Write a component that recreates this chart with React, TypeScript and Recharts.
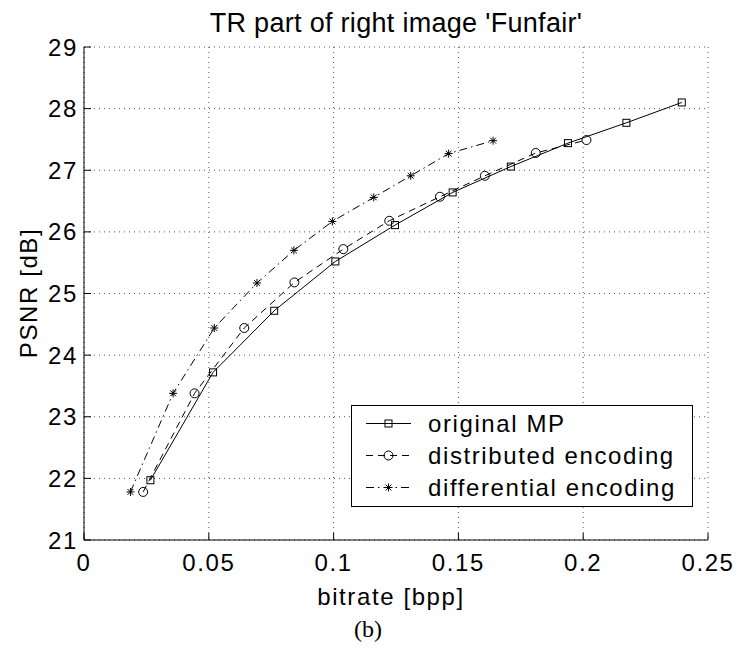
import { CartesianGrid, Legend, Line, LineChart, XAxis, YAxis } from "recharts"

// values
const mpRate = [0.0266, 0.0517, 0.0762, 0.1007, 0.1246, 0.1477, 0.171, 0.1939, 0.2173, 0.2395]
const mpPsnr = [21.97, 23.72, 24.72, 25.52, 26.11, 26.64, 27.06, 27.44, 27.77, 28.1]

const distRate = [0.0237, 0.0443, 0.0642, 0.0843, 0.1039, 0.1223, 0.1426, 0.1606, 0.181, 0.2013]
const distPsnr = [21.78, 23.38, 24.44, 25.18, 25.72, 26.18, 26.57, 26.91, 27.28, 27.49]

const diffRate = [0.0186, 0.0357, 0.0522, 0.0693, 0.0841, 0.0995, 0.1161, 0.1309, 0.1461, 0.1639]
const diffPsnr = [21.78, 23.38, 24.44, 25.17, 25.7, 26.17, 26.56, 26.91, 27.27, 27.48]

const xTicks = [0, 0.05, 0.1, 0.15, 0.2, 0.25]
const yTicks = [21, 22, 23, 24, 25, 26, 27, 28, 29]

const toPoints = (xs: number[], ys: number[]) => xs.map((x, i) => ({ x, y: ys[i] }))

const FONT = "'Liberation Sans', Arial, sans-serif"
const TEXT = { fontFamily: FONT, fontSize: 24, letterSpacing: 1.6, fill: "#000" }
const TICK_LEN = 7

type Marker = "square" | "circle" | "star"

function MarkerShape({ kind, cx, cy }: { kind: Marker; cx: number; cy: number }) {
  if (kind === "square")
    return <rect x={cx - 3.5} y={cy - 3.5} width={7} height={7} fill="none" stroke="#000" strokeWidth={1} />
  if (kind === "circle") return <circle cx={cx} cy={cy} r={4.5} fill="none" stroke="#000" strokeWidth={1} />
  const d = 4
  const e = 2.9
  return (
    <g stroke="#000" strokeWidth={1}>
      <line x1={cx} y1={cy - d} x2={cx} y2={cy + d} />
      <line x1={cx - d} y1={cy} x2={cx + d} y2={cy} />
      <line x1={cx - e} y1={cy - e} x2={cx + e} y2={cy + e} />
      <line x1={cx - e} y1={cy + e} x2={cx + e} y2={cy - e} />
    </g>
  )
}

const series = [
  { name: "original MP", data: toPoints(mpRate, mpPsnr), dash: undefined, marker: "square" as Marker },
  { name: "distributed encoding", data: toPoints(distRate, distPsnr), dash: "7 5", marker: "circle" as Marker },
  { name: "differential encoding", data: toPoints(diffRate, diffPsnr), dash: "8 4 1.5 4", marker: "star" as Marker },
]

function YTick({ x, y, payload }: any) {
  const axisX = x + 6
  return (
    <g>
      <text x={x} y={y} dy={8.5} textAnchor="end" {...TEXT}>
        {payload.value}
      </text>
      <line x1={axisX} x2={axisX + TICK_LEN} y1={y} y2={y} stroke="#000" />
    </g>
  )
}

function XTick({ x, y, payload }: any) {
  return (
    <g>
      <text x={x} y={y + 31} textAnchor="middle" {...TEXT}>
        {String(payload.value)}
      </text>
      <line x1={x} x2={x} y1={y} y2={y - TICK_LEN} stroke="#000" />
    </g>
  )
}

// keep the MATLAB legend order (series order), not the one Recharts hands over
function LegendBox({ payload }: any) {
  const names = new Set(((payload ?? []) as { value: string }[]).map((p) => p.value))
  const rows = series.filter((s) => names.has(s.name))
  return (
    <svg width={342} height={102} style={{ display: "block" }}>
      <rect x={0.5} y={0.5} width={341} height={101} fill="#fff" stroke="#000" />
      {rows.map((s, i) => {
        const cy = 18.5 + i * 32
        return (
          <g key={s.name}>
            <line x1={15} x2={60} y1={cy} y2={cy} stroke="#000" strokeDasharray={s.dash} />
            <MarkerShape kind={s.marker} cx={37.5} cy={cy} />
            <text x={77} y={cy + 8.5} {...TEXT}>
              {s.name}
            </text>
          </g>
        )
      })}
    </svg>
  )
}

export default function App() {
  return (
    <div
      style={{
        position: "absolute",
        left: 0,
        top: 0,
        width: 738,
        height: 651,
        background: "#fff",
        fontFamily: FONT,
      }}
    >
      <LineChart width={738} height={651} margin={{ top: 47, right: 30, bottom: 0, left: 0 }}>
        <CartesianGrid stroke="#555" strokeDasharray="1 4" strokeWidth={1} />
        <XAxis
          type="number"
          dataKey="x"
          domain={[0, 0.25]}
          ticks={xTicks}
          height={111}
          tickSize={0}
          tickMargin={0}
          tickLine={false}
          axisLine={{ stroke: "#000" }}
          tick={<XTick />}
          interval={0}
          allowDataOverflow
          label={{
            content: () => (
              <text x={391} y={605} textAnchor="middle" {...TEXT}>
                bitrate [bpp]
              </text>
            ),
          }}
        />
        <YAxis
          type="number"
          domain={[21, 29]}
          ticks={yTicks}
          width={84}
          tickSize={0}
          tickMargin={6}
          tickLine={false}
          axisLine={{ stroke: "#000" }}
          tick={<YTick />}
          interval={0}
          allowDataOverflow
          label={{
            content: () => (
              <text x={37} y={293} transform="rotate(-90 37 293)" textAnchor="middle" {...TEXT}>
                PSNR [dB]
              </text>
            ),
          }}
        />
        {series.map((s) => (
          <Line
            key={s.name}
            name={s.name}
            data={s.data}
            dataKey="y"
            type="linear"
            stroke="#000"
            strokeWidth={1}
            strokeDasharray={s.dash}
            isAnimationActive={false}
            dot={(p: any) => <MarkerShape key={`${s.name}-${p.index}`} kind={s.marker} cx={p.cx} cy={p.cy} />}
            activeDot={false}
          />
        ))}
        <Legend
          layout="vertical"
          align="center"
          verticalAlign="middle"
          content={<LegendBox />}
          wrapperStyle={{ position: "absolute", left: 351, top: 405, width: 342, height: 102 }}
        />
      </LineChart>
      <svg
        width={738}
        height={651}
        style={{ position: "absolute", left: 0, top: 0, pointerEvents: "none" }}
      >
        <text x={396} y={32} textAnchor="middle" {...TEXT} fontSize={27} letterSpacing={0.3}>
          TR part of right image 'Funfair'
        </text>
        <text x={368} y={637} textAnchor="middle" fontFamily="'Liberation Serif', serif" fontSize={24} fill="#000">
          (b)
        </text>
      </svg>
    </div>
  )
}
